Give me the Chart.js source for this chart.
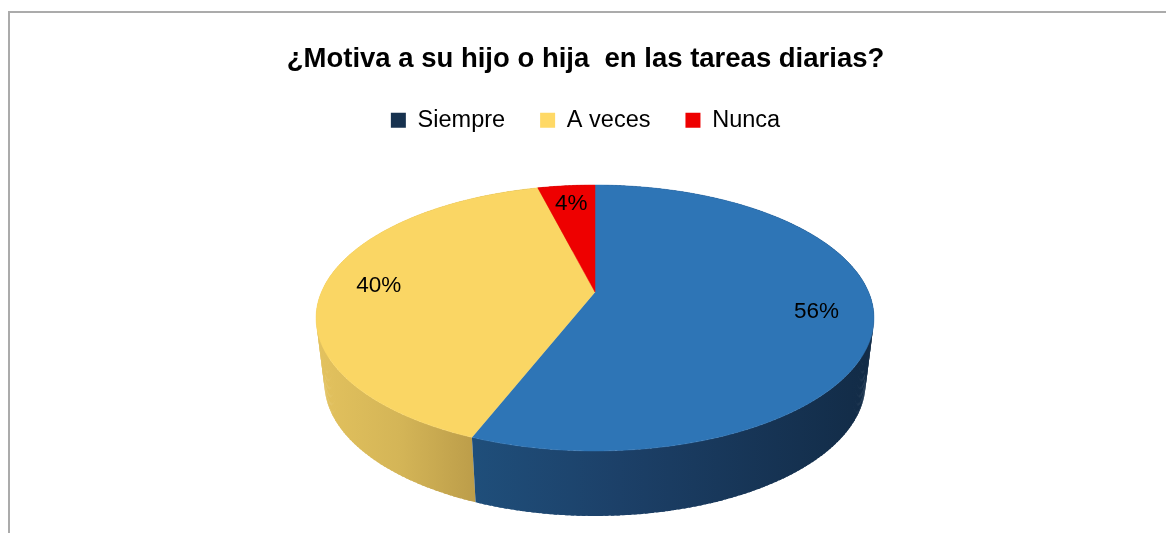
<!DOCTYPE html>
<html>
<head>
<meta charset="utf-8">
<script src="https://cdn.jsdelivr.net/npm/chart.js@4/dist/chart.umd.min.js"></script>
<style>
  html, body { margin: 0; padding: 0; background: #fff; }
  #wrap { position: relative; width: 1166px; height: 533px; overflow: hidden; }
  #frame { position: absolute; left: 8px; top: 11px; right: -4px; bottom: -4px;
           border-left: 2px solid #ababab; border-top: 2px solid #ababab; }
  canvas { position: absolute; left: 0; top: 0; }
</style>
</head>
<body>
<div id="wrap">
  <div id="frame"></div>
  <canvas id="chart" width="1166" height="533"></canvas>
</div>
<script>
/* datos */
const categories  = ['Siempre', 'A veces', 'Nunca'];
const values      = [56, 40, 4];
const valueLabels = ['56%', '40%', '4%'];

/* colores */
const topColors    = ['#2E75B6', '#FAD664', '#EE0000'];
const legendColors = ['#17324F', '#FFD966', '#EE0000'];
const sideColors   = [
  [[0, '#2A62A0'], [0.287, '#1F4E7A'], [0.545, '#1C4068'], [1, '#122B46']],
  [[0, '#E3C25E'], [0.15, '#D4B557'], [0.28, '#BD9E4A'], [1, '#8F7534']],
  [[0, '#B00000'], [1, '#700000']],
];

const FONT = "'Liberation Sans', Arial, sans-serif";
Chart.defaults.font.family = FONT;

/* --- vista en perspectiva (tipo gráfico 3D de Excel) --- */
const VIEW = {
  cx: 595, cy: 292,      // centro del disco en pantalla
  F: 1237, L: 4.522,     // focal y distancia de la cámara (radio = 1)
  sinA: 0.4675, cosA: 0.884,
  depth: 65,             // grosor del disco en px
  shrink: 0.97,          // la base se ve un poco más estrecha
};

function project(u, v) {
  const z = VIEW.L - v * VIEW.cosA;
  return [VIEW.cx + VIEW.F * u / z, VIEW.cy + VIEW.F * v * VIEW.sinA / z];
}
const rim = (a, r = 1) => project(r * Math.cos(a), r * Math.sin(a));
const base = a => {
  const [x, y] = rim(a);
  return [VIEW.cx + (x - VIEW.cx) * VIEW.shrink, y + VIEW.depth];
};

/* Dibuja la torta 3D a partir de los ángulos calculados por Chart.js */
const pie3d = {
  id: 'pie3d',
  beforeDatasetsDraw(chart) {
    const ctx = chart.ctx;
    const arcs = chart.getDatasetMeta(0).data;
    const step = Math.PI / 180;

    const xL = VIEW.cx - 279, xR = VIEW.cx + 279;
    const grads = sideColors.map(stops => {
      const g = ctx.createLinearGradient(xL, 0, xR, 0);
      stops.forEach(([o, c]) => g.addColorStop(o, c));
      return g;
    });

    ctx.save();

    /* paredes laterales: tramos de 1°, de atrás hacia adelante, solapados */
    const quads = [];
    arcs.forEach((arc, i) => {
      const span = arc.endAngle - arc.startAngle;
      const n = Math.max(2, Math.ceil(span / step));
      for (let k = 0; k < n; k++) {
        const t0 = arc.startAngle + span * k / n;
        const t1 = Math.min(arc.endAngle, arc.startAngle + span * (k + 1) / n + step * 0.6);
        quads.push({ i, t0, t1, d: Math.sin((t0 + t1) / 2) });
      }
    });
    quads.sort((a, b) => a.d - b.d);
    quads.forEach(q => {
      const p = [rim(q.t0), rim(q.t1), base(q.t1), base(q.t0)];
      ctx.beginPath();
      p.forEach((pt, k) => k ? ctx.lineTo(pt[0], pt[1]) : ctx.moveTo(pt[0], pt[1]));
      ctx.closePath();
      ctx.fillStyle = grads[q.i];
      ctx.fill();
    });

    /* cara superior */
    const c = project(0, 0);
    arcs.forEach((arc, i) => {
      const span = arc.endAngle - arc.startAngle;
      const n = Math.max(2, Math.ceil(span / step));
      ctx.beginPath();
      ctx.moveTo(c[0], c[1]);
      for (let k = 0; k <= n; k++) {
        const p = rim(arc.startAngle + span * k / n);
        ctx.lineTo(p[0], p[1]);
      }
      ctx.closePath();
      ctx.fillStyle = topColors[i];
      ctx.strokeStyle = topColors[i];
      ctx.lineWidth = 0.5;
      ctx.fill();
      ctx.stroke();
    });

    /* etiquetas de porcentaje */
    ctx.fillStyle = '#000';
    ctx.font = '22.5px ' + FONT;
    ctx.textAlign = 'center';
    ctx.textBaseline = 'middle';
    arcs.forEach((arc, i) => {
      const p = rim((arc.startAngle + arc.endAngle) / 2, 0.8);
      ctx.fillText(valueLabels[i], p[0], p[1]);
    });
    ctx.restore();
    return false; // no dibujar la torta 2D por defecto
  },
};

new Chart(document.getElementById('chart'), {
  type: 'pie',
  data: {
    labels: categories,
    datasets: [{ data: values, backgroundColor: topColors, borderWidth: 0 }],
  },
  options: {
    responsive: false,
    animation: false,
    events: [],
    layout: { padding: { left: 5, right: 0, top: 0, bottom: 0 } },
    plugins: {
      title: {
        display: true,
        text: '¿Motiva a su hijo o hija  en las tareas diarias?',
        color: '#000',
        font: { size: 27.5, weight: 'bold', lineHeight: 1 },
        padding: { top: 46, bottom: 0 },
      },
      legend: {
        position: 'top',
        labels: {
          boxWidth: 15,
          boxHeight: 15,
          padding: 35,
          color: '#000',
          font: { size: 23.5 },
          generateLabels: chart => chart.data.labels.map((text, i) => ({
            text, fillStyle: legendColors[i], strokeStyle: legendColors[i],
            lineWidth: 0, hidden: false, index: i, fontColor: '#000',
          })),
        },
      },
      tooltip: { enabled: false },
    },
  },
  plugins: [pie3d],
});
</script>
</body>
</html>
